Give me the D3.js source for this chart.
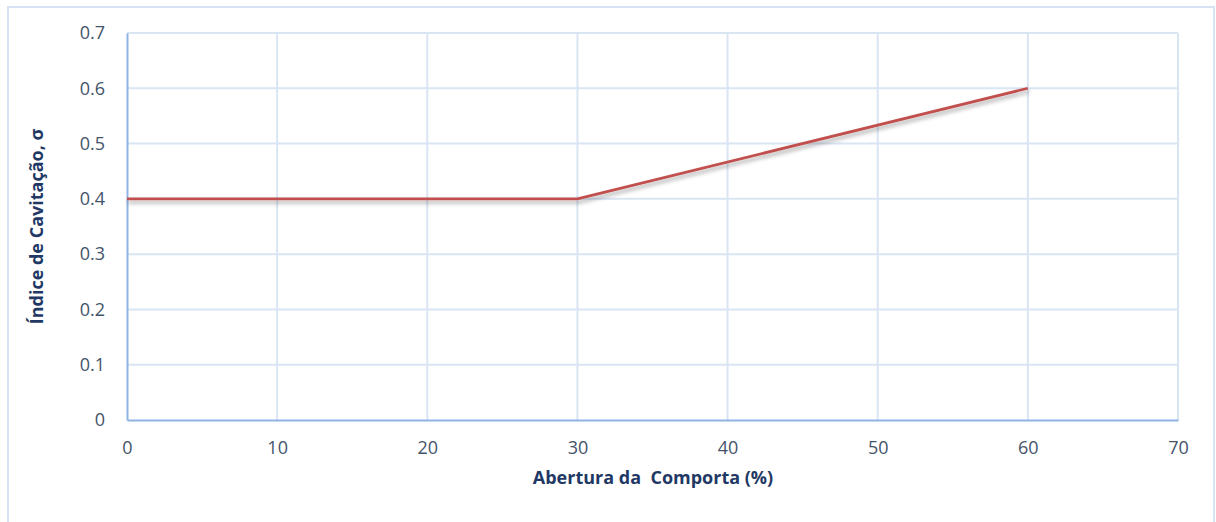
<!DOCTYPE html>
<html>
<head>
<meta charset="utf-8">
<script src="https://cdn.jsdelivr.net/npm/d3@7"></script>
<style>
  html, body { margin: 0; padding: 0; background: #fff; }
  svg { display: block; }
</style>
</head>
<body>
<svg id="chart" width="1216" height="522"></svg>
<script>
// Cavitation index vs gate opening
const opening = [0, 30, 60];          // Abertura da Comporta (%)
const sigma = [0.4, 0.4, 0.6];        // Índice de Cavitação
const xTicks = [0, 10, 20, 30, 40, 50, 60, 70];
const yTicks = [0, 0.1, 0.2, 0.3, 0.4, 0.5, 0.6, 0.7];
const xTitle = "Abertura da  Comporta (%)";
const yTitle = "Índice de Cavitação, σ";

const svg = d3.select("#chart");
const plot = { left: 127, right: 1178, top: 33, bottom: 420 };

const font = "'Open Sans', 'Noto Sans', sans-serif";

// outer chart frame
svg.append("rect")
  .attr("x", 8).attr("y", 7)
  .attr("width", 1206).attr("height", 520)
  .attr("fill", "#fff")
  .attr("stroke", "#d6e3f5").attr("stroke-width", 2);

const x = d3.scaleLinear().domain([0, 70]).range([plot.left, plot.right]);
const y = d3.scaleLinear().domain([0, 0.7]).range([plot.bottom, plot.top]);

const defs = svg.append("defs");
const f = defs.append("filter").attr("id", "shadow")
  .attr("x", "-5%").attr("y", "-50%").attr("width", "110%").attr("height", "300%");
f.append("feDropShadow")
  .attr("dx", 1).attr("dy", 3).attr("stdDeviation", 2)
  .attr("flood-color", "#000").attr("flood-opacity", 0.35);

// gridlines
const grid = svg.append("g");
grid.selectAll("line.v").data(xTicks.filter(d => d > 0)).join("line")
  .attr("x1", d => x(d)).attr("x2", d => x(d))
  .attr("y1", plot.top).attr("y2", plot.bottom)
  .attr("stroke", "#dae5f4").attr("stroke-width", 2);
grid.selectAll("line.h").data(yTicks.filter(d => d > 0)).join("line")
  .attr("x1", plot.left).attr("x2", plot.right)
  .attr("y1", d => y(d)).attr("y2", d => y(d))
  .attr("stroke", "#dae5f4").attr("stroke-width", 2);

// axes
const xAxis = d3.axisBottom(x).tickValues(xTicks).tickSize(0).tickPadding(21)
  .tickFormat(d3.format("d"));
const yAxis = d3.axisLeft(y).tickValues(yTicks).tickSize(0).tickPadding(22)
  .tickFormat(d => d === 0 ? "0" : d3.format(".1f")(d));

const gx = svg.append("g").attr("transform", `translate(0,${plot.bottom})`).call(xAxis);
const gy = svg.append("g").attr("transform", `translate(${plot.left},0)`).call(yAxis);
[gx, gy].forEach(g => {
  g.select(".domain").attr("stroke", "#8eb4e3").attr("stroke-width", 2);
  g.selectAll("text")
    .attr("fill", "#44546a")
    .style("font-family", font)
    .style("font-size", "18px");
});

// data line
const line = d3.line().x((d, i) => x(opening[i])).y(d => y(d));
svg.append("path")
  .datum(sigma)
  .attr("d", line)
  .attr("fill", "none")
  .attr("stroke", "#c0504d")
  .attr("stroke-width", 2.75)
  .attr("stroke-linejoin", "round")
  .attr("filter", "url(#shadow)");

// axis titles
svg.append("text")
  .attr("x", 653).attr("y", 484)
  .attr("text-anchor", "middle")
  .attr("fill", "#1f3864")
  .style("font-family", font).style("font-size", "18px").style("font-weight", "bold")
  .style("white-space", "pre")
  .text(xTitle);

svg.append("text")
  .attr("transform", `translate(43,${(plot.top + plot.bottom) / 2}) rotate(-90)`)
  .attr("text-anchor", "middle")
  .attr("fill", "#1f3864")
  .style("font-family", font).style("font-size", "18px").style("font-weight", "bold")
  .text(yTitle);
</script>
</body>
</html>
